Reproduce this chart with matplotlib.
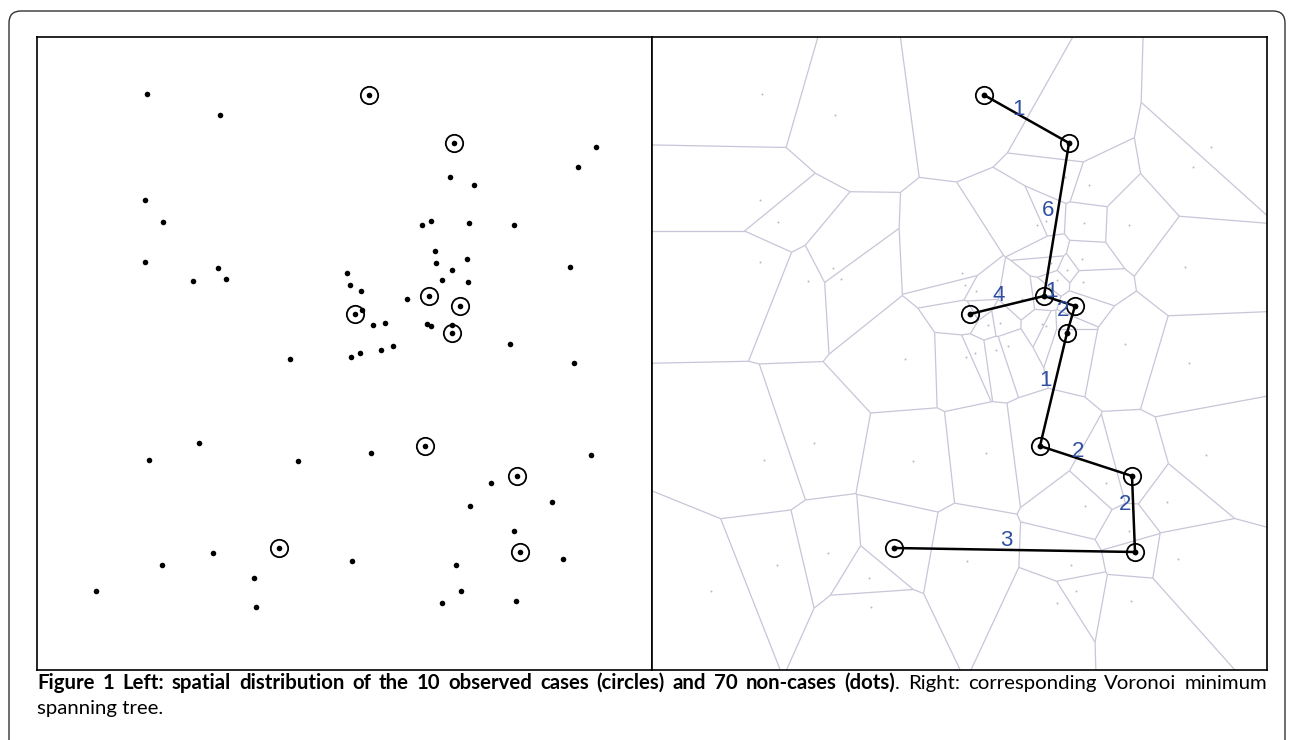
import numpy as np
import matplotlib.pyplot as plt
import matplotlib.tri as mtri
from matplotlib.collections import LineCollection
from matplotlib.patches import FancyBboxPatch
from matplotlib.transforms import IdentityTransform

# map coordinates (x to the right, y downwards), shared by both panels
case_x = [369, 454, 429, 460, 355, 452, 425, 517, 279, 520]
case_y = [95, 143, 296, 306, 314, 333, 446, 476, 548, 552]

noncase_x = [147, 220, 145, 163, 450, 422, 431, 435, 596, 578,
             474, 469, 514, 145, 218, 193, 226, 199, 149, 436,
             452, 347, 350, 361, 442, 407, 362, 373, 385, 427,
             431, 452, 290, 351, 360, 381, 393, 371, 298, 467,
             468, 570, 510, 574, 591, 213, 162, 96, 352, 254,
             256, 442, 491, 552, 470, 514, 563, 456, 461, 516]
noncase_y = [94, 115, 200, 222, 177, 225, 221, 251, 147, 167,
             185, 223, 225, 262, 268, 281, 279, 443, 460, 263,
             270, 273, 285, 291, 280, 299, 310, 325, 323, 324,
             326, 325, 359, 357, 353, 350, 346, 453, 461, 259,
             282, 267, 344, 363, 455, 553, 565, 591, 561, 578,
             607, 603, 483, 502, 506, 531, 559, 565, 591, 601]

# minimum spanning tree between cases (indices into case_x / case_y)
mst_from = [0, 1, 4, 2, 3, 5, 6, 7, 8]
mst_to = [1, 2, 2, 3, 5, 6, 7, 9, 9]
mst_weight = [1, 6, 4, 1, 2, 1, 2, 2, 3]

XLIM = (37, 652)
YLIM = (670, 37)


def voronoi_segments(x, y, far=5000.0):
    """Voronoi edges built from the Delaunay triangulation (circumcentres)."""
    tri = mtri.Triangulation(x, y)
    pts = np.column_stack([x, y]).astype(float)
    a = pts[tri.triangles[:, 0]]
    b = pts[tri.triangles[:, 1]]
    c = pts[tri.triangles[:, 2]]
    a2, b2, c2 = (a ** 2).sum(1), (b ** 2).sum(1), (c ** 2).sum(1)
    d = 2 * (a[:, 0] * (b[:, 1] - c[:, 1]) + b[:, 0] * (c[:, 1] - a[:, 1]) + c[:, 0] * (a[:, 1] - b[:, 1]))
    ux = (a2 * (b[:, 1] - c[:, 1]) + b2 * (c[:, 1] - a[:, 1]) + c2 * (a[:, 1] - b[:, 1])) / d
    uy = (a2 * (c[:, 0] - b[:, 0]) + b2 * (a[:, 0] - c[:, 0]) + c2 * (b[:, 0] - a[:, 0])) / d
    centers = np.column_stack([ux, uy])

    segs = []
    for t, nbrs in enumerate(tri.neighbors):
        for j, n in enumerate(nbrs):
            if n > t:
                segs.append([centers[t], centers[n]])
            elif n == -1:
                p = pts[tri.triangles[t, j]]
                q = pts[tri.triangles[t, (j + 1) % 3]]
                r = pts[tri.triangles[t, (j + 2) % 3]]
                e = q - p
                normal = np.array([e[1], -e[0]])
                if np.dot(normal, r - p) > 0:
                    normal = -normal
                normal /= np.linalg.norm(normal)
                segs.append([centers[t], centers[t] + far * normal])
    return segs


def setup_panel(ax):
    ax.set_xlim(*XLIM)
    ax.set_ylim(*YLIM)
    ax.set_xticks([])
    ax.set_yticks([])
    for s in ax.spines.values():
        s.set_linewidth(1.2)
        s.set_color("black")


def justified_line(fig, tokens, x0, x1, y, family, fill=0.96):
    """Place words so the line fills x0..x1 (pixels). tokens: (text, bold, glued)."""
    r = fig.canvas.get_renderer()
    W, H = fig.bbox.width, fig.bbox.height
    texts = []
    for text, bold, glued in tokens:
        t = fig.text(0, y / H, text, fontsize=10, family=family,
                     fontweight="bold" if bold else "normal", va="baseline", ha="left")
        texts.append(t)
    # pick the font size so the line set with plain spaces fills most of the width
    probe1 = fig.text(0, 0, "a a", fontsize=10, family=family)
    probe2 = fig.text(0, 0, "aa", fontsize=10, family=family)
    sp = probe1.get_window_extent(r).width - probe2.get_window_extent(r).width
    probe1.remove()
    probe2.remove()
    n_gaps = sum(1 for g in tokens[1:] if not g[2])
    natural = sum(t.get_window_extent(r).width for t in texts) + sp * n_gaps
    size = 10 * fill * (x1 - x0) / natural
    widths = []
    for t in texts:
        t.set_fontsize(size)
        widths.append(t.get_window_extent(r).width)
    gap = (x1 - x0 - sum(widths)) / max(n_gaps, 1)
    x = x0
    for i, (t, w) in enumerate(zip(texts, widths)):
        if i > 0 and not tokens[i][2]:
            x += gap
        t.set_x(x / W)
        x += w
    return size


fig = plt.figure(figsize=(12.93, 7.40), dpi=100)
W, H = 1293, 740

frame = FancyBboxPatch((9, -30), 1276, 759, boxstyle="round,pad=0,rounding_size=12",
                       transform=IdentityTransform(), facecolor="none",
                       edgecolor="#333333", linewidth=1.0)
fig.add_artist(frame)

ax_l = fig.add_axes([37 / W, (740 - 670) / H, 615 / W, 633 / H])
ax_r = fig.add_axes([652 / W, (740 - 670) / H, 615 / W, 633 / H])
setup_panel(ax_l)
setup_panel(ax_r)

# left: cases (circles) and non-cases (dots)
ax_l.plot(noncase_x, noncase_y, "o", color="black", markersize=4.0, markeredgewidth=0)
ax_l.plot(case_x, case_y, "o", color="black", markersize=4.0, markeredgewidth=0)
ax_l.plot(case_x, case_y, "o", markerfacecolor="none", markeredgecolor="black",
          markersize=12.5, markeredgewidth=1.3)

# right: Voronoi tessellation and minimum spanning tree
all_x = np.array(case_x + noncase_x, dtype=float)
all_y = np.array(case_y + noncase_y, dtype=float)
lc = LineCollection(voronoi_segments(all_x, all_y), colors="#c6c6d8", linewidths=0.9)
ax_r.add_collection(lc)
ax_r.plot(noncase_x, noncase_y, "o", color="#b8b8c4", markersize=1.4, markeredgewidth=0)

for i, j, w in zip(mst_from, mst_to, mst_weight):
    ax_r.plot([case_x[i], case_x[j]], [case_y[i], case_y[j]], color="black", linewidth=1.8,
              solid_capstyle="round", zorder=3)
    mx = (case_x[i] + case_x[j]) / 2
    my = (case_y[i] + case_y[j]) / 2
    ax_r.annotate(str(w), (mx, my), xytext=(-6, 6.5), textcoords="offset points",
                  ha="center", va="center", fontsize=16, color="#2f4fa0",
                  family="Liberation Sans", zorder=5)

ax_r.plot(case_x, case_y, "o", color="black", markersize=4.2, markeredgewidth=0, zorder=4)
ax_r.plot(case_x, case_y, "o", markerfacecolor="none", markeredgecolor="black",
          markersize=12.5, markeredgewidth=1.3, zorder=4)

# caption
cap_family = ["Lato", "DejaVu Sans"]
bold_words = "Figure 1 Left: spatial distribution of the 10 observed cases (circles) and 70 non-cases (dots)".split()
tokens = [(w, True, False) for w in bold_words]
tokens.append((".", False, True))
tokens += [(w, False, False) for w in "Right: corresponding Voronoi minimum".split()]
cap_size = justified_line(fig, tokens, 37, 1267, 740 - 689, cap_family)
fig.text(37 / W, (740 - 714) / H, "spanning tree.", fontsize=cap_size, family=cap_family,
         va="baseline", ha="left")

fig.savefig("out.png", dpi=100)
